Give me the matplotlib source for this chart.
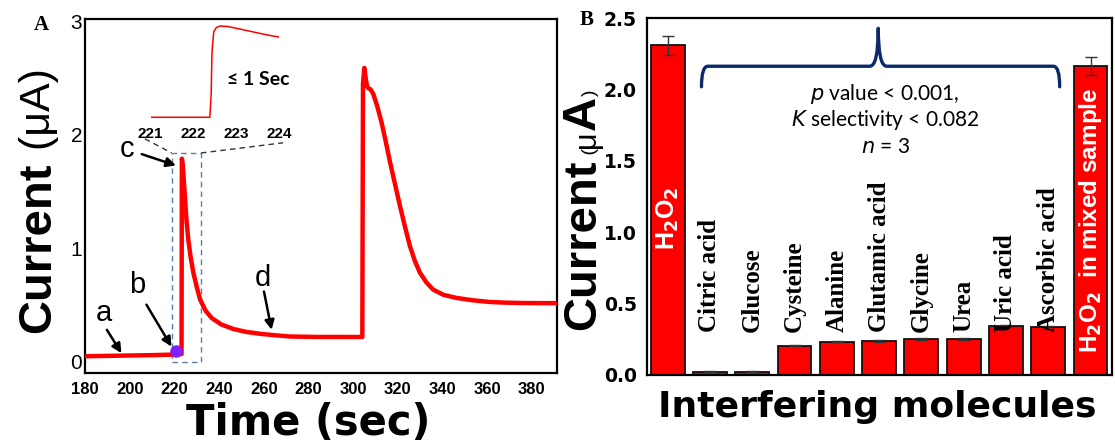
import matplotlib
matplotlib.use("Agg")
import matplotlib.pyplot as plt
from matplotlib.path import Path
from matplotlib.patches import PathPatch, Rectangle

W, H = 1115, 446

# ---- panel A: amperometric response ----
time_s = [180, 195, 210, 220, 223.2, 223.35, 223.8, 224.7, 225.4, 226.2, 227.3,
          228.5, 230.0, 231.5, 234.0, 236.7, 241.0, 246.4, 252.0, 258.3, 265.0,
          271.7, 285.0, 304.1, 304.4, 305.0, 305.6, 306.2, 306.8, 307.8, 309.0,
          310.8, 312.7, 314.6, 316.5, 318.8, 321.0, 323.2, 325.4, 327.6, 329.9,
          332.8, 335.8, 340.5, 346.2, 353.5, 361.2, 368.5, 376.1, 383.0, 391.0]
current_uA = [0.05, 0.055, 0.06, 0.065, 0.07, 1.79, 1.72, 1.46, 1.25, 1.08, 0.92,
              0.785, 0.66, 0.55, 0.45, 0.387, 0.33, 0.29, 0.265, 0.248, 0.235,
              0.224, 0.22, 0.22, 2.45, 2.59, 2.5, 2.43, 2.41, 2.4, 2.36,
              2.25, 2.11, 1.94, 1.76, 1.56, 1.37, 1.19, 1.02, 0.89, 0.785,
              0.70, 0.637, 0.59, 0.564, 0.543, 0.528, 0.522, 0.519, 0.518, 0.518]
xticks_a = [180, 200, 220, 240, 260, 280, 300, 320, 340, 360, 380]
yticks_a = [0, 1, 2, 3]

# zoomed inset of the first rise
inset_t = [221.02, 222.38, 222.41, 222.43, 222.47, 222.53, 222.62, 222.8,
           223.1, 223.5, 223.8, 224.03]
inset_i = [0.08, 0.08, 0.5, 1.3, 1.68, 1.76, 1.79, 1.78, 1.73, 1.66, 1.61, 1.58]
inset_ticks = [221, 222, 223, 224]

dot_t, dot_i = 220.5, 0.1

# ---- panel B: interference ----
molecules = ["H2O2", "Citric acid", "Glucose", "Cysteine", "Alanine",
             "Glutamic acid", "Glycine", "Urea", "Uric acid", "Ascorbic acid",
             "mixed"]
bar_uA = [2.31, 0.023, 0.023, 0.205, 0.233, 0.238, 0.252, 0.252, 0.345, 0.334, 2.164]
bar_err = [0.064, 0.002, 0.002, 0.005, 0.005, 0.007, 0.01, 0.006, 0.006, 0.01, 0.064]
yticks_b = [0.0, 0.5, 1.0, 1.5, 2.0, 2.5]

fig = plt.figure(figsize=(W / 100, H / 100), dpi=100)
fig.patch.set_facecolor("white")


def px(x0, y0, x1, y1):
    return [x0 / W, 1 - y1 / H, (x1 - x0) / W, (y1 - y0) / H]


# ================= A =================
ax = fig.add_axes(px(85, 19, 556.5, 373.3))
ax.plot(time_s, current_uA, color="#ff0000", lw=3.2, solid_joinstyle="round", zorder=3)
ax.plot([dot_t], [dot_i], "o", color="#8020ff", ms=8, zorder=4)
ax.set_xlim(180, 391)
ax.set_ylim(-0.1, 3.02)
ax.set_xticks(xticks_a)
ax.set_yticks(yticks_a)
ax.tick_params(length=0, pad=2)
ax.tick_params(axis="x", pad=6)
for lab in ax.get_xticklabels():
    lab.set_fontfamily("Liberation Sans")
    lab.set_fontweight("bold")
    lab.set_fontsize(12)
for lab in ax.get_yticklabels():
    lab.set_fontfamily("Liberation Sans")
    lab.set_fontsize(15)
for s in ax.spines.values():
    s.set_linewidth(1.6)

# dashed zoom box and guide lines
ax.add_patch(Rectangle((218.8, 0.0), 13.1, 1.84, fill=False, ec="#5a7fa8",
                       lw=1, ls=(0, (4, 3)), zorder=2))
ax.plot([206.8, 218.8], [1.965, 1.84], color="#333333", lw=1, ls=(0, (4, 3)))
ax.plot([231.9, 268.7], [1.84, 1.93], color="#333333", lw=1, ls=(0, (4, 3)))

ax.text(257.4, 2.49, "\u2264 1 Sec", fontsize=14, fontweight="bold",
        family="Lato", ha="center", va="center")

arr = dict(arrowstyle="-|>", color="black", lw=1.8, mutation_scale=14,
           shrinkA=0, shrinkB=0)
for lab, tx, ty, x0, y0, x1, y1 in [("a", 188.3, 0.43, 189.8, 0.283, 196.3, 0.077),
                                     ("b", 203.5, 0.68, 207.5, 0.504, 218.7, 0.135),
                                     ("c", 198.6, 1.876, 205.4, 1.83, 220.7, 1.73),
                                     ("d", 259.8, 0.74, 260.1, 0.62, 263.5, 0.283)]:
    ax.text(tx, ty, lab, fontsize=21, family="Liberation Sans", ha="center", va="center")
    ax.annotate("", xy=(x1, y1), xytext=(x0, y0), arrowprops=arr)

fig.text(308 / W, 1 - 435 / H, "Time (sec)", ha="center", va="baseline",
         fontsize=30, fontweight="bold")

# inset
axi = fig.add_axes(px(150.7, 22, 279.3, 120))
axi.plot(inset_t, inset_i, color="#ff0000", lw=1.1)
axi.set_xlim(221, 224)
axi.set_ylim(0.029, 1.865)
axi.set_xticks(inset_ticks)
axi.set_yticks([])
axi.tick_params(length=0, pad=5)
for lab in axi.get_xticklabels():
    lab.set_fontfamily("Liberation Sans")
    lab.set_fontweight("bold")
    lab.set_fontsize(11)
for s in axi.spines.values():
    s.set_visible(False)
axi.patch.set_alpha(0)

# ================= B =================
bx = fig.add_axes(px(646.5, 18.3, 1111.7, 375))
xs = list(range(len(molecules)))
bx.bar(xs, bar_uA, width=0.8, color="#ff0000", edgecolor="#111111", lw=1.3, zorder=2)
bx.errorbar(xs, bar_uA, yerr=bar_err, fmt="none", ecolor="#333333", elinewidth=1,
            capsize=4, capthick=1, zorder=3)
bx.set_xlim(-0.5, 10.5)
bx.set_ylim(0, 2.5)
bx.set_xticks([])
bx.set_yticks(yticks_b)
bx.set_yticklabels(["%.1f" % v for v in yticks_b])
bx.tick_params(length=0, pad=7)
for lab in bx.get_yticklabels():
    lab.set_fontweight("bold")
    lab.set_fontsize(13.5)
for s in bx.spines.values():
    s.set_linewidth(1.6)

for i, name in enumerate(molecules[1:10], start=1):
    bx.text(i, 0.30, name, rotation=90, ha="center", va="bottom",
            family="Liberation Serif", fontweight="bold", fontsize=18)

bx.text(0, 1.1, r"H$_\mathbf{2}$O$_\mathbf{2}$", rotation=90, ha="center", va="center",
        color="white", family="Liberation Sans", fontweight="bold", fontsize=18)
bx.text(10, 1.085, r"H$_\mathbf{2}$O$_\mathbf{2}$  in mixed sample", rotation=90,
        ha="center", va="center", color="white", family="Liberation Sans",
        fontweight="bold", fontsize=17.5)

# curly brace over the interferents
xl, xr, xm = 0.8, 9.27, 4.98
yb, yh, yt = 2.02, 2.164, 2.43
verts = [(xl, yb), (xl, yh), (xl + 0.15, yh),
         (xm - 0.2, yh), (xm, yh), (xm, yt),
         (xm, yh), (xm + 0.2, yh),
         (xr - 0.15, yh), (xr, yh), (xr, yb)]
codes = [Path.MOVETO, Path.CURVE3, Path.CURVE3,
         Path.LINETO, Path.CURVE3, Path.CURVE3,
         Path.CURVE3, Path.CURVE3,
         Path.LINETO, Path.CURVE3, Path.CURVE3]
bx.add_patch(PathPatch(Path(verts, codes), fill=False, ec="#0b2a6b", lw=2.4,
                       capstyle="round", joinstyle="round", zorder=4))

bx.text(5.14, 1.966, r"$\it{p}$ value < 0.001,", ha="center", va="center",
        family="Lato", fontsize=15)
bx.text(5.14, 1.786, r"$\it{K}$ selectivity < 0.082", ha="center", va="center",
        family="Lato", fontsize=15)
bx.text(5.14, 1.60, r"$\it{n}$ = 3", ha="center", va="center", family="Lato", fontsize=15)

fig.text(877 / W, 1 - 417 / H, "Interfering molecules", ha="center", va="baseline",
         fontsize=26, fontweight="bold")

# panel letters
fig.text(41.7 / W, 1 - 25 / H, "A", family="Liberation Serif", fontweight="bold",
         fontsize=15, ha="center", va="center")
fig.text(586.7 / W, 1 - 20 / H, "B", family="Liberation Serif", fontweight="bold",
         fontsize=15, ha="center", va="center")

# rotated y labels built piece by piece
renderer = fig.canvas.get_renderer()


def rot_label(xb, y0, pieces):
    y = y0
    for s, size, w in pieces:
        t = fig.text(xb / W, 1 - y / H, s, rotation=90, rotation_mode="anchor",
                     ha="left", va="baseline", fontsize=size, fontweight=w,
                     family="Liberation Sans")
        y -= t.get_window_extent(renderer).height


rot_label(50, 333, [("Current", 34, "bold"), (" (\u03bcA)", 31, "normal")])
rot_label(595, 330, [("Current", 34, "bold"), (" (", 14, "normal"),
                     ("\u03bc", 22, "normal"), ("A", 34, "bold"), (")", 14, "normal")])

fig.savefig("out.png", dpi=100, facecolor="white")
